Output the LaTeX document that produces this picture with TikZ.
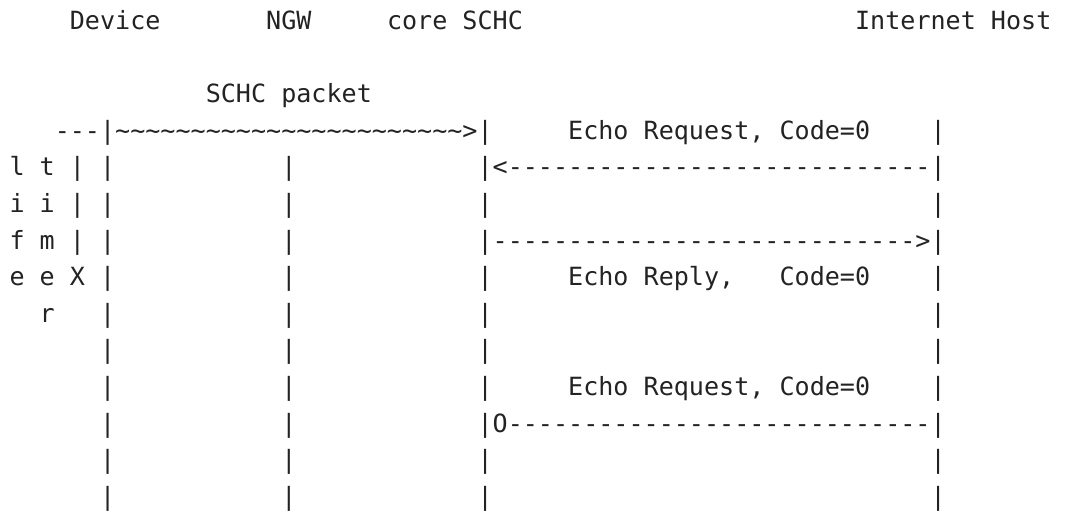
\documentclass[tikz,border=0pt]{standalone}
\usepackage{fontspec}
\setmonofont{DejaVu Sans Mono}
\definecolor{ink}{HTML}{232323}
\tikzset{
  asc/.style={anchor=base west, inner sep=0pt, outer sep=0pt, text=ink,
    font=\ttfamily\fontsize{25.08pt}{30pt}\selectfont}
}
\newcommand\seg[4]{\node[asc] (#1) at ({9.5pt+15.1pt*#2},{-29.5pt-36.6pt*#3}) {#4};}
\newcommand\dashes{----------------------------}% 28
\newcommand\tilds{\textasciitilde\textasciitilde\textasciitilde\textasciitilde\textasciitilde\textasciitilde\textasciitilde\textasciitilde\textasciitilde\textasciitilde\textasciitilde\textasciitilde\textasciitilde\textasciitilde\textasciitilde\textasciitilde\textasciitilde\textasciitilde\textasciitilde\textasciitilde\textasciitilde\textasciitilde\textasciitilde}% 23
\begin{document}
\begin{tikzpicture}
\useasboundingbox (0pt,0pt) rectangle (1072pt,-513pt);
% header
\seg{hdev}{4}{0}{Device}
\seg{hngw}{17}{0}{NGW}
\seg{hcore}{25}{0}{core SCHC}
\seg{hhost}{56}{0}{Internet Host}
\seg{pkt}{13}{2}{SCHC packet}
% row 3
\seg{r3a}{3}{3}{---|\tilds>|}
\seg{r3b}{37}{3}{Echo Request, Code=0}
\seg{r3c}{61}{3}{|}
% row 4
\seg{r4a}{0}{4}{l t | |}
\seg{r4b}{18}{4}{|}
\seg{r4c}{31}{4}{|<\dashes|}
% row 5
\seg{r5a}{0}{5}{i i | |}
\seg{r5b}{18}{5}{|}
\seg{r5c}{31}{5}{|}
\seg{r5d}{61}{5}{|}
% row 6
\seg{r6a}{0}{6}{f m | |}
\seg{r6b}{18}{6}{|}
\seg{r6c}{31}{6}{|\dashes>|}
% row 7
\seg{r7a}{0}{7}{e e X |}
\seg{r7b}{18}{7}{|}
\seg{r7c}{31}{7}{|}
\seg{r7d}{37}{7}{Echo Reply,}
\seg{r7e}{51}{7}{Code=0}
\seg{r7f}{61}{7}{|}
% row 8
\seg{r8a}{2}{8}{r}
\seg{r8b}{6}{8}{|}
\seg{r8c}{18}{8}{|}
\seg{r8d}{31}{8}{|}
\seg{r8e}{61}{8}{|}
% row 9
\seg{r9a}{6}{9}{|}
\seg{r9b}{18}{9}{|}
\seg{r9c}{31}{9}{|}
\seg{r9d}{61}{9}{|}
% row 10
\seg{r10a}{6}{10}{|}
\seg{r10b}{18}{10}{|}
\seg{r10c}{31}{10}{|}
\seg{r10d}{37}{10}{Echo Request, Code=0}
\seg{r10e}{61}{10}{|}
% row 11
\seg{r11a}{6}{11}{|}
\seg{r11b}{18}{11}{|}
\seg{r11c}{31}{11}{|O\dashes|}
% row 12
\seg{r12a}{6}{12}{|}
\seg{r12b}{18}{12}{|}
\seg{r12c}{31}{12}{|}
\seg{r12d}{61}{12}{|}
% row 13
\seg{r13a}{6}{13}{|}
\seg{r13b}{18}{13}{|}
\seg{r13c}{31}{13}{|}
\seg{r13d}{61}{13}{|}
\end{tikzpicture}
\end{document}
